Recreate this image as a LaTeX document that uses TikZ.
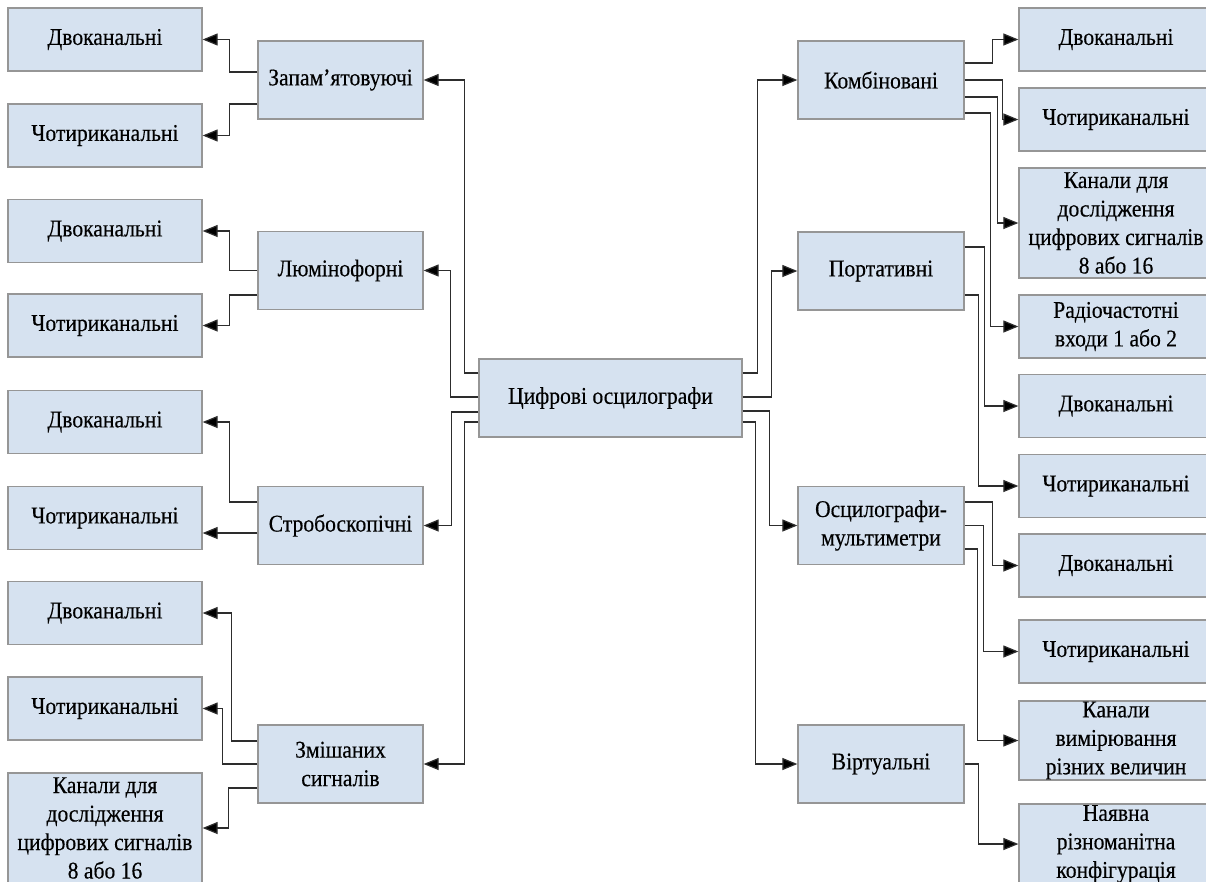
\documentclass[tikz,border=0pt]{standalone}
\usepackage{fontspec}
\setmainfont{Liberation Serif}[FakeStretch=0.9,FakeBold=0.3]
\usetikzlibrary{arrows.meta}
\definecolor{boxfill}{RGB}{214,226,240}
\definecolor{boxline}{RGB}{150,150,150}
\definecolor{conline}{RGB}{45,45,45}
\begin{document}
\begin{tikzpicture}[x=1pt,y=-1pt,
  box/.style={draw=boxline, fill=boxfill, line width=1.3pt, inner sep=0pt, align=center,
    font=\fontsize{24pt}{28.5pt}\selectfont},
  leaf/.style={box, minimum width=194pt, minimum height=63pt},
  mid/.style={box, minimum width=165pt, minimum height=78pt},
  arr/.style={draw=conline, line width=1.2pt, -{Triangle[length=15pt,width=12pt,fill=black]}}]
\useasboundingbox (0,0) rectangle (1206,881);
\clip (0,0) rectangle (1206,881);
\fill[white] (0,0) rectangle (1206,881);
% centre
\node[box, minimum width=263pt, minimum height=78pt] (c) at (610.5,398) {Цифрові осцилографи};
% left middle
\node[mid] (m1) at (340.5,80) {Запам’ятовуючі};
\node[mid] (m2) at (340.5,270.5) {Люмінофорні};
\node[mid] (m3) at (340.5,525.5) {Стробоскопічні};
\node[mid] (m4) at (340.5,764) {Змішаних\\сигналів};
% left leaves
\node[leaf] (l1) at (105,39.5) {Двоканальні};
\node[leaf] (l2) at (105,135.5) {Чотириканальні};
\node[leaf] (l3) at (105,231) {Двоканальні};
\node[leaf] (l4) at (105,325.5) {Чотириканальні};
\node[leaf] (l5) at (105,422) {Двоканальні};
\node[leaf] (l6) at (105,518) {Чотириканальні};
\node[leaf] (l7) at (105,613) {Двоканальні};
\node[leaf] (l8) at (105,708.5) {Чотириканальні};
\node[leaf, minimum height=110pt] (l9) at (105,828) {Канали для\\дослідження\\цифрових сигналів\\8 або 16};
% right middle
\node[box, minimum width=166pt, minimum height=78pt] (r1) at (881,80) {Комбіновані};
\node[box, minimum width=166pt, minimum height=78pt] (r2) at (881,271) {Портативні};
\node[box, minimum width=166pt, minimum height=78pt] (r3) at (881,525.5) {Осцилографи-\\мультиметри};
\node[box, minimum width=166pt, minimum height=78pt] (r4) at (881,764) {Віртуальні};
% right leaves
\node[leaf] (q1) at (1116,39.5) {Двоканальні};
\node[leaf] (q2) at (1116,119.5) {Чотириканальні};
\node[leaf, minimum height=110pt] (q3) at (1116,223) {Канали для\\дослідження\\цифрових сигналів\\8 або 16};
\node[leaf] (q4) at (1116,326.5) {Радіочастотні\\входи 1 або 2};
\node[leaf] (q5) at (1116,406) {Двоканальні};
\node[leaf] (q6) at (1116,486) {Чотириканальні};
\node[leaf] (q7) at (1116,565.5) {Двоканальні};
\node[leaf] (q8) at (1116,651.5) {Чотириканальні};
\node[leaf, minimum height=79pt] (q9) at (1116,740.5) {Канали\\вимірювання\\різних величин};
\node[leaf, minimum height=80pt] (q10) at (1116,844) {Наявна\\різноманітна\\конфігурація};
% centre -> left middle
\draw[arr] ([yshift=25pt]c.west) -- ++(-14,0) |- (m1.east);
\draw[arr] ([yshift=1pt]c.west) -- ++(-28,0) |- (m2.east);
\draw[arr] ([yshift=-14pt]c.west) -- ++(-27,0) |- (m3.east);
\draw[arr] ([yshift=-24pt]c.west) -- ++(-14,0) |- (m4.east);
% centre -> right middle
\draw[arr] ([yshift=25pt]c.east) -- ++(15,0) |- (r1.west);
\draw[arr] ([yshift=1pt]c.east) -- ++(29,0) |- (r2.west);
\draw[arr] ([yshift=-13pt]c.east) -- ++(27,0) |- (r3.west);
\draw[arr] ([yshift=-24pt]c.east) -- ++(13,0) |- (r4.west);
% left middle -> leaves
\draw[arr] ([yshift=8pt]m1.west) -- ++(-28,0) |- (l1.east);
\draw[arr] ([yshift=-24pt]m1.west) -- ++(-28,0) |- (l2.east);
\draw[arr] (m2.west) -- ++(-28,0) |- (l3.east);
\draw[arr] ([yshift=-24.5pt]m2.west) -- ++(-28,0) |- (l4.east);
\draw[arr] ([yshift=23.5pt]m3.west) -- ++(-28,0) |- (l5.east);
\coordinate (s6) at ([yshift=-7.5pt]m3.west);
\draw[arr] (s6) -- (s6 -| l6.east);
\draw[arr] ([yshift=23pt]m4.west) -- ++(-26,0) |- (l7.east);
\draw[arr] (m4.west) -- ++(-35,0) |- (l8.east);
\draw[arr] ([yshift=-24pt]m4.west) -- ++(-29,0) |- (l9.east);
% right middle -> leaves
\draw[arr] ([yshift=17pt]r1.east) -- ++(28,0) |- (q1.west);
\draw[arr] (r1.east) -- ++(38,0) |- (q2.west);
\draw[arr] ([yshift=-17pt]r1.east) -- ++(33,0) |- (q3.west);
\draw[arr] ([yshift=-33pt]r1.east) -- ++(26,0) |- (q4.west);
\draw[arr] ([yshift=24pt]r2.east) -- ++(20,0) |- (q5.west);
\draw[arr] ([yshift=-24pt]r2.east) -- ++(14,0) |- (q6.west);
\draw[arr] ([yshift=23.5pt]r3.east) -- ++(28,0) |- (q7.west);
\draw[arr] (r3.east) -- ++(19,0) |- (q8.west);
\draw[arr] ([yshift=-23.5pt]r3.east) -- ++(13,0) |- (q9.west);
\draw[arr] (r4.east) -- ++(14,0) |- (q10.west);
\end{tikzpicture}
\end{document}
